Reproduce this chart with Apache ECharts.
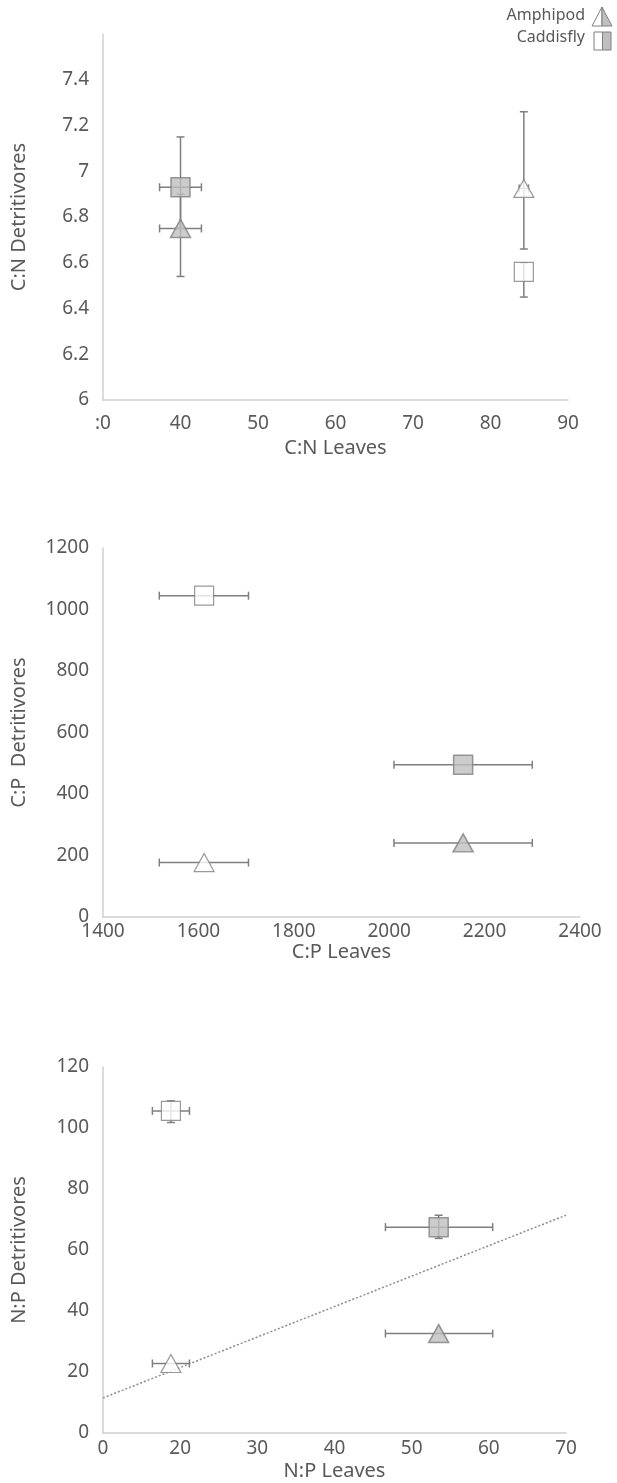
<!DOCTYPE html>
<html>
<head>
<meta charset="utf-8">
<script src="https://cdn.jsdelivr.net/npm/echarts@6/dist/echarts.min.js"></script>
<style>
  html, body { margin: 0; padding: 0; background: #fff; }
  #main { width: 617px; height: 1483px; }
</style>
</head>
<body>
<div id="main"></div>
<script>
// each point: [x, y, xLow, xHigh, yLow, yHigh]
var cnAmphGray  = [[40, 6.75, 37.3, 42.7, 6.54, 6.9]];
var cnAmphWhite = [[84.3, 6.925, 83.7, 84.9, 6.66, 7.26]];
var cnCadGray   = [[40, 6.93, 37.3, 42.7, 6.75, 7.15]];
var cnCadWhite  = [[84.3, 6.56, 84.3, 84.3, 6.45, 6.6]];

var cpAmphGray  = [[2155, 241, 2010, 2300, 241, 241]];
var cpAmphWhite = [[1612, 177, 1518, 1705, 177, 177]];
var cpCadGray   = [[2155, 495, 2010, 2300, 495, 495]];
var cpCadWhite  = [[1612, 1045, 1518, 1705, 1045, 1045]];

var npAmphGray  = [[53.5, 32.6, 46.6, 60.5, 32.6, 32.6]];
var npAmphWhite = [[18.8, 22.8, 16.4, 21.2, 22.8, 22.8]];
var npCadGray   = [[53.5, 67.5, 46.6, 60.5, 63.8, 71.4]];
var npCadWhite  = [[18.8, 105.6, 16.4, 21.2, 101.8, 108.9]];
var npTrendX = [10, 70];
var npTrendY = [11.5, 71.4];

var cnXTicks = [':0', '40', '50', '60', '70', '80', '90'];
var cnYTicks = ['6', '6.2', '6.4', '6.6', '6.8', '7', '7.2', '7.4', ''];
var cpXTicks = ['1400', '1600', '1800', '2000', '2200', '2400'];
var cpYTicks = ['0', '200', '400', '600', '800', '1000', '1200'];
var npXTicks = ['0', '20', '30', '40', '50', '60', '70'];
var npYTicks = ['0', '20', '40', '60', '80', '100', '120'];

var txt = '#595959';
var axisGray = '#d0d0d0';
var edge = '#7f7f7f';
var font = 'Noto Sans';

var myChart = echarts.init(document.getElementById('main'));

function errBars(params, api) {
    var x = api.value(0), y = api.value(1);
    var xl = api.coord([api.value(2), y]), xh = api.coord([api.value(3), y]);
    var yl = api.coord([x, api.value(4)]), yh = api.coord([x, api.value(5)]);
    var cap = 4;
    var st = { stroke: edge, lineWidth: 1.5 };
    var kids = [];
    if (Math.abs(xh[0] - xl[0]) > 1) {
        kids.push({ type: 'line', shape: { x1: xl[0], y1: xl[1], x2: xh[0], y2: xh[1] }, style: st });
        kids.push({ type: 'line', shape: { x1: xl[0], y1: xl[1] - cap, x2: xl[0], y2: xl[1] + cap }, style: st });
        kids.push({ type: 'line', shape: { x1: xh[0], y1: xh[1] - cap, x2: xh[0], y2: xh[1] + cap }, style: st });
    }
    if (Math.abs(yh[1] - yl[1]) > 1) {
        kids.push({ type: 'line', shape: { x1: yl[0], y1: yl[1], x2: yh[0], y2: yh[1] }, style: st });
        kids.push({ type: 'line', shape: { x1: yl[0] - cap, y1: yl[1], x2: yl[0] + cap, y2: yl[1] }, style: st });
        kids.push({ type: 'line', shape: { x1: yh[0] - cap, y1: yh[1], x2: yh[0] + cap, y2: yh[1] }, style: st });
    }
    return { type: 'group', children: kids };
}

function tickFmt(list, min, step) {
    return function (v) {
        var i = Math.round((v - min) / step);
        return list[i] !== undefined ? list[i] : '';
    };
}

function xAx(idx, min, max, step, ticks, name, margin, gap) {
    return {
        gridIndex: idx, type: 'value', min: min, max: max, interval: step,
        splitLine: { show: false }, axisTick: { show: false },
        axisLine: { lineStyle: { color: axisGray, width: 1.5 } },
        axisLabel: { color: txt, fontSize: 19, fontFamily: font, margin: margin, formatter: tickFmt(ticks, min, step) },
        name: name, nameLocation: 'middle', nameGap: gap,
        nameTextStyle: { color: txt, fontSize: 20, fontFamily: font }
    };
}
function yAx(idx, min, max, step, ticks, name) {
    return {
        gridIndex: idx, type: 'value', min: min, max: max, interval: step,
        splitLine: { show: false }, axisTick: { show: false },
        axisLine: { show: true, lineStyle: { color: axisGray, width: 1.5 } },
        axisLabel: { color: txt, fontSize: 19, fontFamily: font, margin: 14, formatter: tickFmt(ticks, min, step) },
        name: name, nameLocation: 'middle', nameGap: 74,
        nameTextStyle: { color: txt, fontSize: 20, fontFamily: font }
    };
}

function pts(d) { return d.map(function (p) { return [p[0], p[1]]; }); }

function group(idx, ag, aw, cg, cw) {
    var all = ag.concat(aw, cg, cw);
    return [
        { type: 'custom', xAxisIndex: idx, yAxisIndex: idx, renderItem: errBars, data: all, z: 2,
          encode: { x: [0, 2, 3], y: [1, 4, 5] }, silent: true },
        { type: 'scatter', name: 'Amphipod', xAxisIndex: idx, yAxisIndex: idx, data: pts(ag), symbol: 'triangle', symbolSize: [20, 18],
          itemStyle: { color: '#bfbfbf', borderColor: edge, borderWidth: 1.5 }, z: 3 },
        { type: 'scatter', name: 'Amphipod', xAxisIndex: idx, yAxisIndex: idx, data: pts(aw), symbol: 'triangle', symbolSize: [20, 18],
          itemStyle: { color: '#ffffff', borderColor: edge, borderWidth: 1.2 }, z: 3 },
        { type: 'scatter', name: 'Caddisfly', xAxisIndex: idx, yAxisIndex: idx, data: pts(cg), symbol: 'rect', symbolSize: 19,
          itemStyle: { color: '#bfbfbf', borderColor: edge, borderWidth: 1.5 }, z: 3 },
        { type: 'scatter', name: 'Caddisfly', xAxisIndex: idx, yAxisIndex: idx, data: pts(cw), symbol: 'rect', symbolSize: 19,
          itemStyle: { color: '#ffffff', borderColor: edge, borderWidth: 1.2 }, z: 3 }
    ];
}

var series = [].concat(
    group(0, cnAmphGray, cnAmphWhite, cnCadGray, cnCadWhite),
    group(1, cpAmphGray, cpAmphWhite, cpCadGray, cpCadWhite),
    group(2, npAmphGray, npAmphWhite, npCadGray, npCadWhite)
);
series.push({
    type: 'line', xAxisIndex: 2, yAxisIndex: 2, z: 1, symbol: 'none', silent: true,
    data: npTrendX.map(function (x, i) { return [x, npTrendY[i]]; }),
    lineStyle: { color: '#8c8c8c', width: 1.5, type: [2, 2] }
});

var option = {
    animation: false,
    grid: [
        { left: 103, right: 49, top: 34, height: 366, outerBoundsMode: 'none' },
        { left: 103, right: 37, top: 548, height: 369, outerBoundsMode: 'none' },
        { left: 103, right: 51, top: 1067, height: 366, outerBoundsMode: 'none' }
    ],
    xAxis: [
        xAx(0, 30, 90, 10, cnXTicks, 'C:N Leaves', 14, 38),
        xAx(1, 1400, 2400, 200, cpXTicks, 'C:P Leaves', 5, 23),
        xAx(2, 10, 70, 10, npXTicks, 'N:P Leaves', 6, 28)
    ],
    yAxis: [
        yAx(0, 6, 7.6, 0.2, cnYTicks, 'C:N Detritivores'),
        yAx(1, 0, 1200, 200, cpYTicks, 'C:P  Detritivores'),
        yAx(2, 0, 120, 20, npYTicks, 'N:P Detritivores')
    ],
    graphic: [
        { type: 'text', right: 32, top: 7, style: { text: 'Amphipod', fill: txt, fontSize: 16, fontFamily: font } },
        { type: 'text', right: 32, top: 29, style: { text: 'Caddisfly', fill: txt, fontSize: 16, fontFamily: font } },
        { type: 'polygon', shape: { points: [[602, 7], [602, 26], [592, 26]] }, style: { fill: '#fff', stroke: edge, lineWidth: 1 } },
        { type: 'polygon', shape: { points: [[602, 7], [612, 26], [602, 26]] }, style: { fill: '#bfbfbf', stroke: edge, lineWidth: 1 } },
        { type: 'rect', shape: { x: 594, y: 32, width: 8.5, height: 18 }, style: { fill: '#fff', stroke: edge, lineWidth: 1 } },
        { type: 'rect', shape: { x: 602.5, y: 32, width: 8.5, height: 18 }, style: { fill: '#bfbfbf', stroke: edge, lineWidth: 1 } }
    ],
    series: series
};

myChart.setOption(option);
</script>
</body>
</html>
